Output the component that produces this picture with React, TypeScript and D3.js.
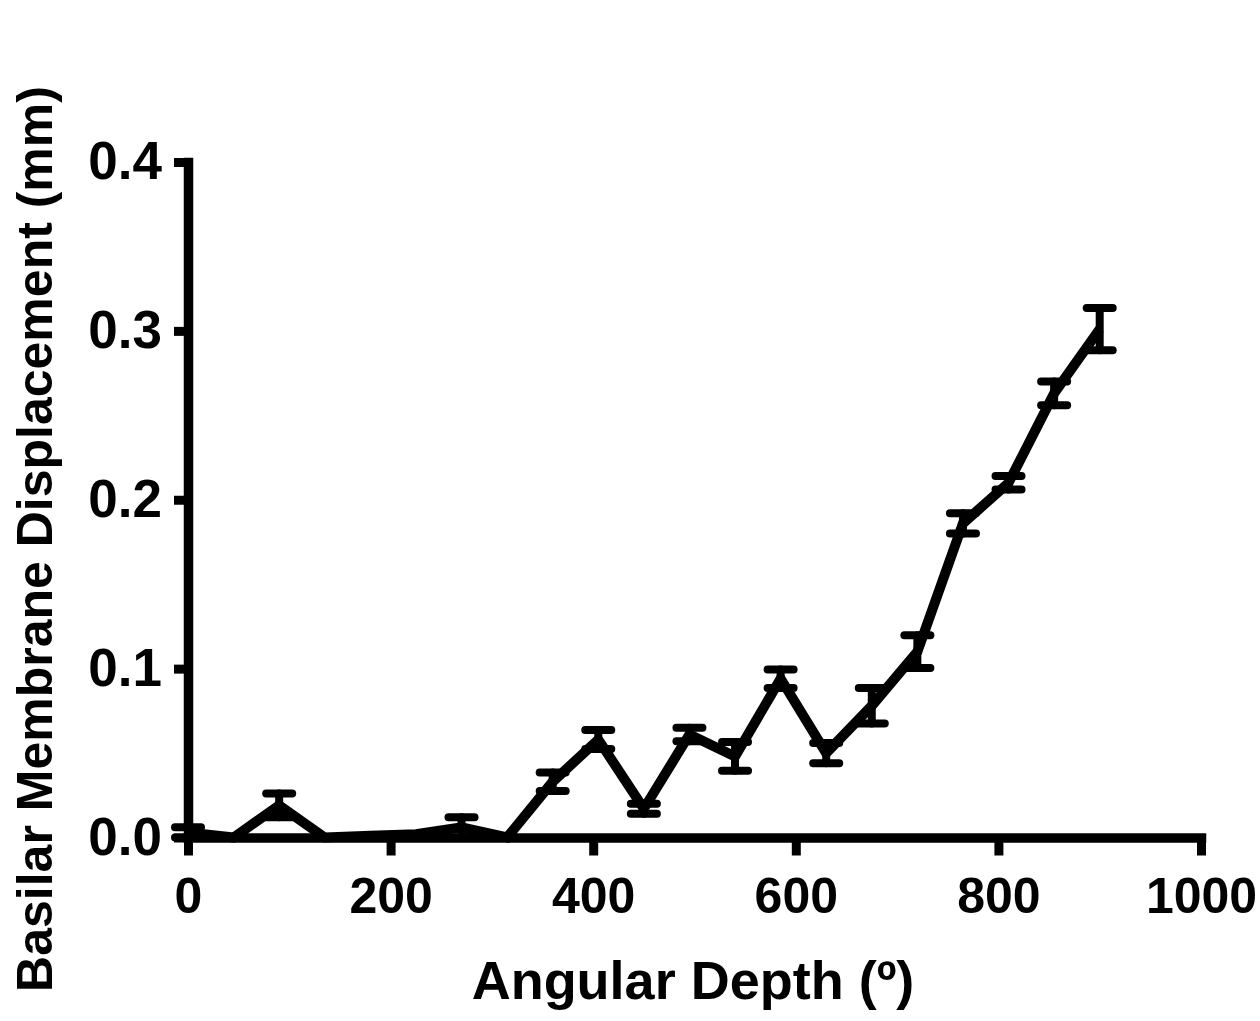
import * as d3 from "d3";
import { useEffect, useRef } from "react";

// angular depth (degrees)
const depths = [0, 45, 90, 135, 180, 225, 270, 315, 360, 405, 450, 495, 540, 585, 630, 675, 720, 765, 810, 855, 900];
// mean basilar membrane displacement (mm)
const means = [0.003, 0.0, 0.019, 0.0, 0.001, 0.002, 0.006, 0.0, 0.033, 0.058, 0.017, 0.061, 0.048, 0.094, 0.05, 0.078, 0.11, 0.186, 0.21, 0.263, 0.301];
// error (mm), symmetric
const errors = [0.003, 0.0, 0.007, 0.0, 0.0, 0.0, 0.006, 0.0, 0.0055, 0.0056, 0.003, 0.004, 0.0085, 0.0055, 0.006, 0.0105, 0.0097, 0.006, 0.004, 0.007, 0.0125];

const xTicks = [0, 200, 400, 600, 800, 1000];
const yTicks = [0, 0.1, 0.2, 0.3, 0.4];

function App() {
  const ref = useRef<SVGSVGElement>(null);

  useEffect(() => {
    const svg = d3.select(ref.current);
    svg.selectAll("*").remove();

    const width = 1260;
    const height = 1021;
    const margin = { top: 162, right: 59, bottom: 183.5, left: 188 };
    const plotW = width - margin.left - margin.right;
    const plotH = height - margin.top - margin.bottom;

    const font = "'Liberation Sans', Arial, Helvetica, sans-serif";

    const x = d3.scaleLinear().domain([0, 1000]).range([0, plotW]);
    const y = d3.scaleLinear().domain([0, 0.4]).range([plotH, 0]);

    const g = svg.append("g").attr("transform", `translate(${margin.left},${margin.top})`);

    // axes
    const xAxis = g
      .append("g")
      .attr("transform", `translate(0,${plotH})`)
      .call(d3.axisBottom(x).tickValues(xTicks).tickFormat(d3.format("d")).tickSize(18).tickSizeOuter(0).tickPadding(22));
    const yAxis = g
      .append("g")
      .call(d3.axisLeft(y).tickValues(yTicks).tickFormat(d3.format(".1f")).tickSize(14).tickSizeOuter(0).tickPadding(12));

    [xAxis, yAxis].forEach(ax => {
      ax.select(".domain").attr("stroke", "#000").attr("stroke-width", 9.5).attr("stroke-linecap", "square");
      ax.selectAll(".tick line").attr("stroke", "#000").attr("stroke-width", 9);
      ax.selectAll(".tick text")
        .attr("fill", "#000")
        .style("font-family", font)
        .style("font-weight", "bold");
    });
    xAxis.selectAll(".tick text").style("font-size", "50px");
    yAxis.selectAll(".tick text").style("font-size", "53px");

    // line
    const line = d3
      .line<number>()
      .x((_, i) => x(depths[i]))
      .y(d => y(d));

    g.append("path")
      .datum(means)
      .attr("fill", "none")
      .attr("stroke", "#000")
      .attr("stroke-width", 10)
      .attr("stroke-linejoin", "miter")
      .attr("d", line);

    // error bars
    const capW = 26;
    const bars = g
      .selectAll(".err")
      .data(depths.map((d, i) => ({ d, m: means[i], e: errors[i] })).filter(p => p.e > 0))
      .enter()
      .append("g")
      .attr("class", "err")
      .attr("stroke", "#000")
      .attr("stroke-width", 8)
      .attr("stroke-linecap", "round");

    bars
      .append("line")
      .attr("x1", p => x(p.d))
      .attr("x2", p => x(p.d))
      .attr("y1", p => y(p.m + p.e))
      .attr("y2", p => y(p.m - p.e));
    bars
      .append("line")
      .attr("x1", p => x(p.d) - capW / 2)
      .attr("x2", p => x(p.d) + capW / 2)
      .attr("y1", p => y(p.m + p.e))
      .attr("y2", p => y(p.m + p.e));
    bars
      .append("line")
      .attr("x1", p => x(p.d) - capW / 2)
      .attr("x2", p => x(p.d) + capW / 2)
      .attr("y1", p => y(Math.max(0, p.m - p.e)))
      .attr("y2", p => y(Math.max(0, p.m - p.e)));

    // axis titles
    svg
      .append("text")
      .attr("x", 693)
      .attr("y", 999)
      .attr("text-anchor", "middle")
      .style("font-family", font)
      .style("font-weight", "bold")
      .style("font-size", "54px")
      .text("Angular Depth (º)");

    svg
      .append("text")
      .attr("transform", "rotate(-90)")
      .attr("x", -539)
      .attr("y", 52)
      .attr("text-anchor", "middle")
      .style("font-family", font)
      .style("font-weight", "bold")
      .style("font-size", "50px")
      .text("Basilar Membrane Displacement (mm)");
  }, []);

  return (
    <div style={{ position: "absolute", left: 0, top: 0 }}>
      <svg ref={ref} width={1260} height={1021} style={{ display: "block", background: "#fff" }} />
    </div>
  );
}

export default App;
